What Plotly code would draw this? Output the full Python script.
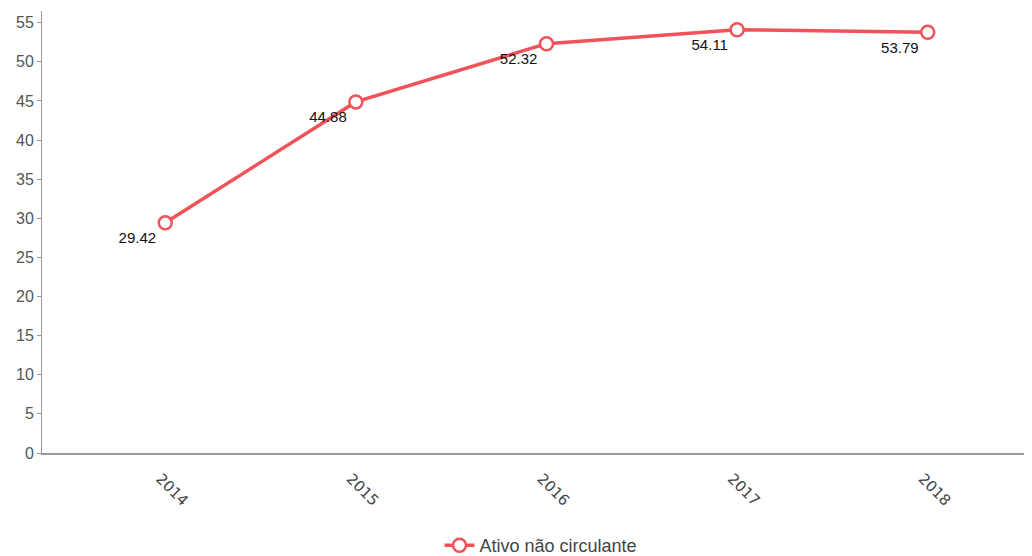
import plotly.graph_objects as go

years = ["2014", "2015", "2016", "2017", "2018"]
values = [29.42, 44.88, 52.32, 54.11, 53.79]
labels = ["29.42", "44.88", "52.32", "54.11", "53.79"]
series_name = "Ativo não circulante"
y_ticks = [0, 5, 10, 15, 20, 25, 30, 35, 40, 45, 50, 55]

red = "#f0525a"
font = "Liberation Sans, Arial, sans-serif"

fig = go.Figure()
fig.add_trace(go.Scatter(
    x=years, y=values, name=series_name,
    mode="lines+markers+text",
    text=labels, textposition="bottom left",
    textfont=dict(family=font, size=15, color="#111111"),
    line=dict(color=red, width=3.5),
    marker=dict(symbol="circle", size=13, color="white", line=dict(color=red, width=2.5)),
    cliponaxis=False,
))

fig.update_layout(
    width=1032, height=556,
    margin=dict(l=34, r=0, t=3, b=105),
    paper_bgcolor="white", plot_bgcolor="white",
    showlegend=True,
    legend=dict(orientation="h", x=0.5, xanchor="center", y=-0.168, yanchor="top",
                font=dict(family=font, size=18, color="#444444")),
    xaxis=dict(
        type="category", range=[-0.6465, 4.589], automargin=False,
        showgrid=False, showline=True, linecolor="#999999", linewidth=2,
        ticks="", tickangle=45, ticklabelstandoff=9, ticklabelshift=-5,
        tickfont=dict(family="DejaVu Sans, sans-serif", size=15, color="#444444"),
        zeroline=False,
    ),
    yaxis=dict(
        range=[0, 56.5], tickvals=y_ticks, automargin=False,
        showgrid=False, showline=True, linecolor="#999999", linewidth=1,
        ticks="outside", ticklen=4, tickcolor="#999999",
        tickfont=dict(family=font, size=16, color="#555555"),
        zeroline=False,
    ),
)

fig.write_html("out.html")
